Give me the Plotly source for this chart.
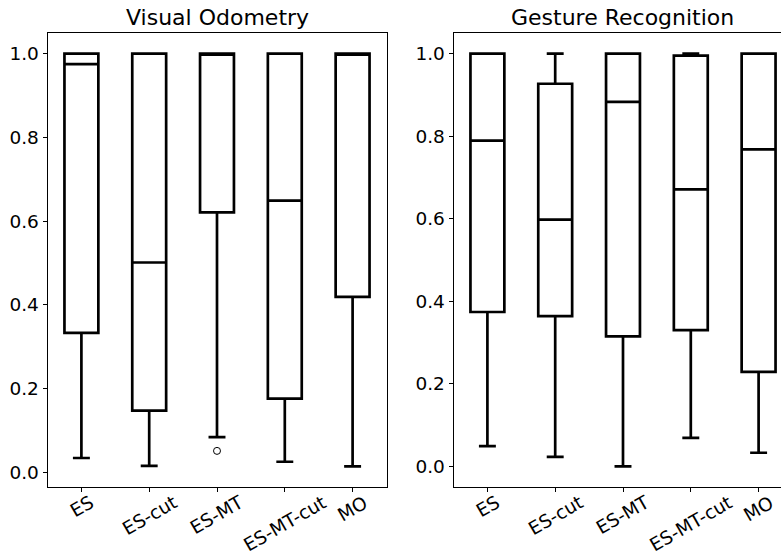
import plotly.graph_objects as go

# Method labels shared by both panels
methods = ["ES", "ES-cut", "ES-MT", "ES-MT-cut", "MO"]
positions = [1, 2, 3, 4, 5]

# Visual Odometry box statistics
vo_lower = [0.034, 0.015, 0.084, 0.025, 0.014]
vo_q1 = [0.333, 0.147, 0.621, 0.176, 0.419]
vo_median = [0.975, 0.501, 1.0, 0.649, 1.0]
vo_q3 = [1.0, 1.0, 1.0, 1.0, 1.0]
vo_upper = [1.0, 1.0, 1.0, 1.0, 1.0]
vo_outlier_pos = [3]
vo_outlier_val = [0.051]

# Gesture Recognition box statistics
gr_lower = [0.049, 0.023, 0.0, 0.069, 0.033]
gr_q1 = [0.374, 0.364, 0.315, 0.330, 0.229]
gr_median = [0.789, 0.598, 0.883, 0.671, 0.768]
gr_q3 = [1.0, 0.927, 1.0, 0.995, 1.0]
gr_upper = [1.0, 1.0, 1.0, 1.0, 1.0]

FONT = "DejaVu Sans"
TICK_SIZE = 18.5
TITLE_SIZE = 22
W, H = 781, 554
L, R, T, B = 47, 0, 33, 67
plot_w = W - L - R

# pixel extents of the two axes areas
left_px = (47.5, 386.5)
right_px = (453.5, 792.0)   # right panel runs past the page edge
step = (left_px[1] - left_px[0]) / 5.0


def px_to_paper(px):
    return (px - L) / plot_w


def box_trace(lower, q1, med, q3, upper, xa, ya):
    return go.Box(
        x=positions, q1=q1, median=med, q3=q3,
        lowerfence=lower, upperfence=upper,
        width=0.5, whiskerwidth=0.5,
        fillcolor="white",
        line=dict(color="black", width=2.7),
        boxpoints=False, showlegend=False, hoverinfo="skip",
        xaxis=xa, yaxis=ya,
    )


def auto_range(*series):
    vals = [v for s in series for v in s]
    lo, hi = min(vals), max(vals)
    pad = 0.05 * (hi - lo)
    return [lo - pad, hi + pad]


fig = go.Figure()
fig.add_trace(box_trace(vo_lower, vo_q1, vo_median, vo_q3, vo_upper, "x", "y"))
fig.add_trace(go.Scatter(
    x=vo_outlier_pos, y=vo_outlier_val, mode="markers",
    marker=dict(symbol="circle-open", size=7, color="black", line=dict(width=1)),
    showlegend=False, hoverinfo="skip", xaxis="x", yaxis="y",
))
fig.add_trace(box_trace(gr_lower, gr_q1, gr_median, gr_q3, gr_upper, "x2", "y2"))

axis_common = dict(
    showgrid=False, zeroline=False, showline=True, linecolor="black",
    linewidth=1, ticks="outside", ticklen=4, tickwidth=1, tickcolor="black",
)

right_visible_end = 0.5 + (W - right_px[0]) / step

fig.update_layout(
    width=W, height=H,
    margin=dict(l=L, r=R, t=T, b=B, pad=0),
    paper_bgcolor="white", plot_bgcolor="white",
    font=dict(family=FONT, size=TICK_SIZE, color="black"),
    xaxis=dict(
        domain=[px_to_paper(left_px[0]), px_to_paper(left_px[1])],
        range=[0.5, 5.5], tickvals=positions, showticklabels=False,
        mirror=True, anchor="y", **axis_common,
    ),
    yaxis=dict(
        domain=[0, 1], anchor="x",
        range=auto_range(vo_lower, vo_upper, vo_outlier_val),
        tickvals=[0, 0.2, 0.4, 0.6, 0.8, 1.0], tickformat=".1f",
        mirror=True, tickfont=dict(size=TICK_SIZE), **axis_common,
    ),
    xaxis2=dict(
        domain=[px_to_paper(right_px[0]), 1.0],
        range=[0.5, right_visible_end], tickvals=positions, showticklabels=False,
        mirror=True, anchor="y2", **axis_common,
    ),
    yaxis2=dict(
        domain=[0, 1], anchor="x2",
        range=auto_range(gr_lower, gr_upper),
        tickvals=[0, 0.2, 0.4, 0.6, 0.8, 1.0], tickformat=".1f",
        mirror=False, tickfont=dict(size=TICK_SIZE), **axis_common,
    ),
)

annotations = []
# panel titles
for title, (a, b) in (("Visual Odometry", left_px), ("Gesture Recognition", right_px)):
    annotations.append(dict(
        text=title, xref="paper", yref="paper",
        x=px_to_paper((a + b) / 2), y=1, xanchor="center", yanchor="bottom",
        yshift=1, showarrow=False, font=dict(family=FONT, size=TITLE_SIZE, color="black"),
    ))

# rotated category labels under each tick
for xa in ("x", "x2"):
    for p, name in zip(positions, methods):
        annotations.append(dict(
            text=name, xref=xa, yref="paper", x=p, y=0,
            xanchor="center", yanchor="top", yshift=-3, textangle=-30,
            borderpad=0,
            showarrow=False, font=dict(family=FONT, size=TICK_SIZE, color="black"),
        ))

fig.update_layout(annotations=annotations)

fig.write_html("out.html")
